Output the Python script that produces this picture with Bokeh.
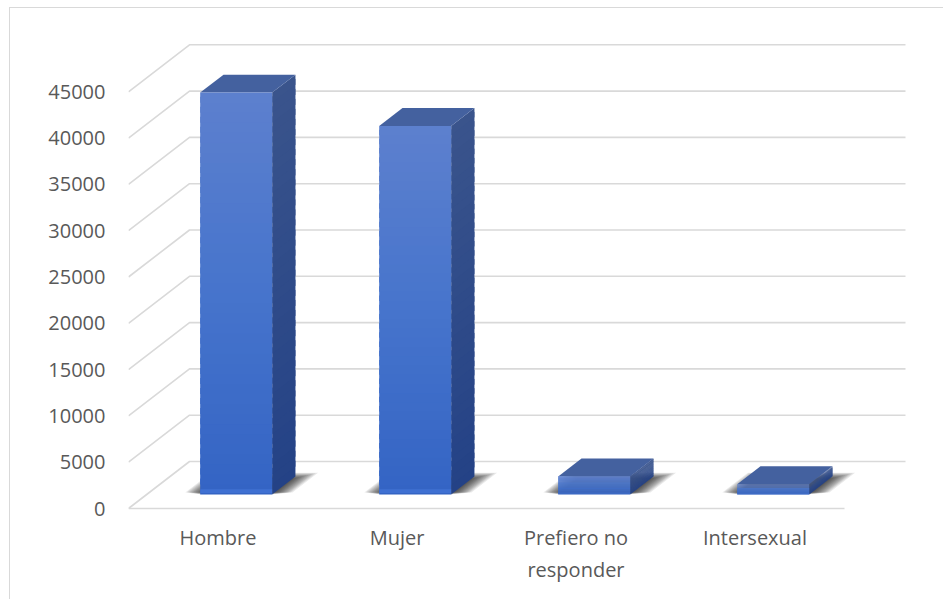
import numpy as np
from bokeh.plotting import figure
from bokeh.models import Range1d, FixedTicker
from bokeh.embed import file_html
from bokeh.resources import INLINE

# ---- data ----
categories = ["Hombre", "Mujer", "Prefiero no responder", "Intersexual"]
tick_labels = ["Hombre", "Mujer", "Prefiero no\nresponder", "Intersexual"]
counts = [43400, 39800, 1950, 1100]
y_ticks = [0, 5000, 10000, 15000, 20000, 25000, 30000, 35000, 40000, 45000]

# ---- layout (pixels) ----
OFF_X, OFF_Y = 9, 7   # figure offset on the page (chart border)
W, H = 943 - OFF_X, 599 - OFF_Y
FRAME_LEFT_SCREEN = 127
FRAME_BOTTOM_SCREEN = 510
ZERO_SCREEN = 507
LEFT = FRAME_LEFT_SCREEN - OFF_X
BOTTOM = 599 - FRAME_BOTTOM_SCREEN
CAT_PX = 179.0        # px per category
VAL_PX = 46.3 / 5000  # px per value unit
DEPTH_X_PX, DEPTH_Y_PX = 61.0, 47.0

DX = DEPTH_X_PX / CAT_PX
DY = DEPTH_Y_PX / VAL_PX
x_end = (W - LEFT) / CAT_PX
y_start = -(FRAME_BOTTOM_SCREEN - ZERO_SCREEN) / VAL_PX
y_end = (ZERO_SCREEN - OFF_Y) / VAL_PX

p = figure(width=W, height=H, output_backend="svg", toolbar_location=None,
           x_range=Range1d(0, x_end), y_range=Range1d(y_start, y_end),
           min_border_left=LEFT, min_border_right=0, min_border_top=0,
           min_border_bottom=BOTTOM)
p.margin = (OFF_Y, 0, 0, OFF_X)
p.outline_line_color = None
p.xgrid.visible = False
p.ygrid.visible = False
p.background_fill_color = "white"
p.border_fill_color = "white"
p.styles = {"border-top": "1px solid #d9d9d9", "border-left": "1px solid #d9d9d9",
            "box-sizing": "border-box"}

LABEL_FONT = "Open Sans"
LABEL_COLOR = "#595959"

for ax in (p.xaxis[0], p.yaxis[0]):
    ax.axis_line_color = None
    ax.major_tick_line_color = None
    ax.minor_tick_line_color = None
    ax.major_tick_in = 0
    ax.major_tick_out = 0
    ax.major_label_text_font = LABEL_FONT
    ax.major_label_text_font_size = "20px"
    ax.major_label_text_color = LABEL_COLOR

p.yaxis[0].ticker = FixedTicker(ticks=y_ticks)
p.yaxis[0].major_label_standoff = 23
p.yaxis[0].formatter.use_scientific = False

n = len(categories)
centers = [i + 0.5 for i in range(n)]
p.xaxis[0].ticker = FixedTicker(ticks=centers)
p.xaxis[0].major_label_overrides = {c: t for c, t in zip(centers, tick_labels)}
p.xaxis[0].major_label_standoff = 12

# ---- walls / grid ----
grid_xs, grid_ys = [], []
for v in y_ticks:
    grid_xs.append([0, DX, DX + n])
    grid_ys.append([v, v + DY, v + DY])
grid_xs.append([0, n])
grid_ys.append([0, 0])
p.multi_line(grid_xs, grid_ys, line_color="#d9d9d9", line_width=1.6)

# ---- bars ----
D0, D1 = 0.298, 0.68
HALF = 0.201
ox0, oy0 = D0 * DX, D0 * DY
ox1, oy1 = D1 * DX, D1 * DY


def lerp(c1, c2, t):
    return "#%02x%02x%02x" % tuple(int(round(a + (b - a) * t)) for a, b in zip(c1, c2))


def grad(stops, t):
    for (p1, c1), (p2, c2) in zip(stops[:-1], stops[1:]):
        if t <= p2:
            return lerp(c1, c2, (t - p1) / (p2 - p1))
    return lerp(stops[-1][1], stops[-1][1], 0)


front_stops = [(0.0, (52, 100, 196)), (0.5, (70, 116, 204)), (1.0, (93, 128, 206))]
side_stops = [(0.0, (36, 66, 134)), (1.0, (58, 84, 140))]
TOP_COLOR = "#44619f"

# soft shadows on the floor (stacked translucent footprints)
NS = 11
for k in range(NS, 0, -1):
    ex = 1.6 * k
    e = ex / CAT_PX
    db = D1 + 0.012 * k - 0.05
    da = D0 + 0.004 * k
    sx, sy = [], []
    for c in centers:
        l, r = c - HALF - e, c + HALF + e
        sx.append([l + da * DX, r + da * DX, r + db * DX, l + db * DX])
        sy.append([da * DY, da * DY, db * DY, db * DY])
    p.patches(sx, sy, fill_color="black", fill_alpha=0.085, line_color=None)

NB = 40
fl, fr, fb, ft, fc = [], [], [], [], []
sxs, sys_, scs = [], [], []
txs, tys = [], []
for c, v in zip(centers, counts):
    L, R = c - HALF, c + HALF
    for k in range(NB):
        b = v * k / NB
        tt = min(v, v * (k + 1) / NB + v * 0.6 / NB)
        fl.append(L + ox0); fr.append(R + ox0)
        fb.append(b + oy0); ft.append(tt + oy0)
        fc.append(grad(front_stops, (k + 0.5) / NB))
        sxs.append([R + ox0, R + ox1, R + ox1, R + ox0])
        sys_.append([b + oy0, b + oy1, tt + oy1, tt + oy0])
        scs.append(grad(side_stops, (k + 0.5) / NB))
    txs.append([L + ox0, R + ox0, R + ox1, L + ox1])
    tys.append([v + oy0, v + oy0, v + oy1, v + oy1])

p.patches(sxs, sys_, fill_color=scs, line_color=None)
p.patches(txs, tys, fill_color=TOP_COLOR, line_color=None)
p.quad(left=fl, right=fr, bottom=fb, top=ft, fill_color=fc, line_color=None)

# thin light rim at the bottom of the front faces of tall bars
HL = 4 / VAL_PX
tall = [(c, v) for c, v in zip(centers, counts) if v > 10 * HL]
p.quad(left=[c - HALF + ox0 for c, v in tall], right=[c + HALF + ox0 for c, v in tall],
       bottom=[oy0 + 0.4 * HL for c, v in tall], top=[oy0 + 1.3 * HL for c, v in tall],
       fill_color="#3f70d2", line_color=None)

open("out.html", "w").write(file_html(p, INLINE))
